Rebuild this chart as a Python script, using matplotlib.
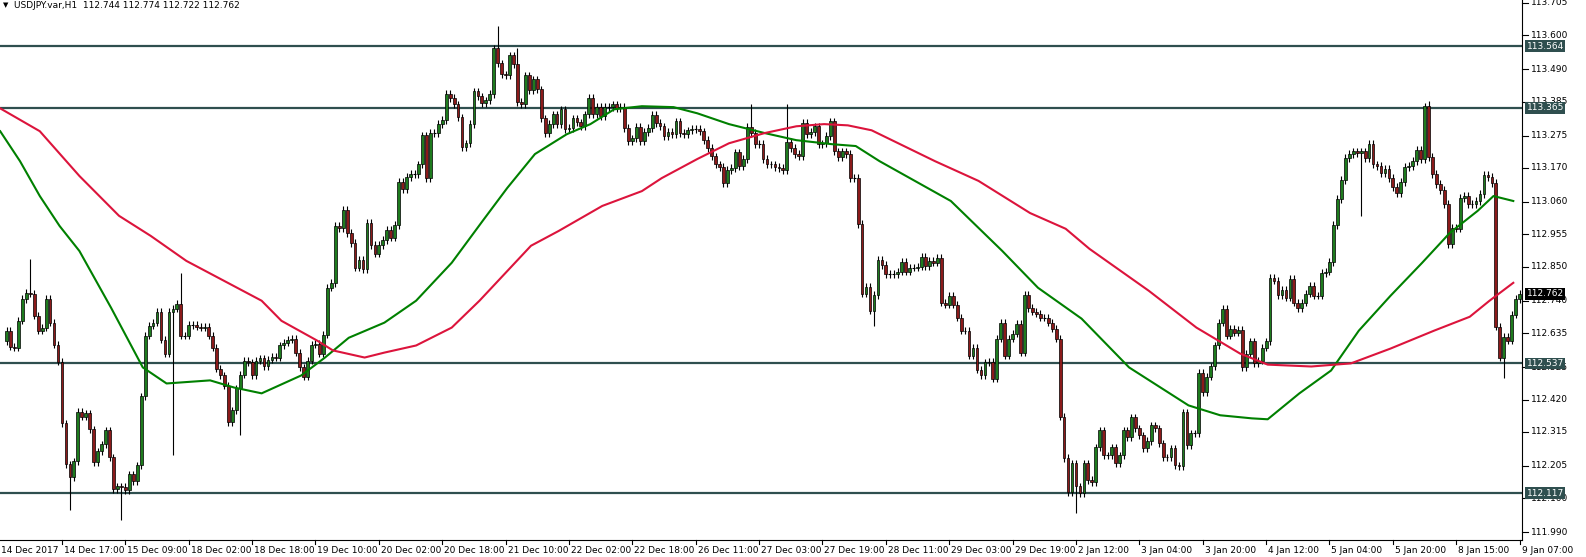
import matplotlib
matplotlib.use("Agg")
import matplotlib.pyplot as plt
from matplotlib.patches import Rectangle
import numpy as np

closes = [
112.643,112.591,112.588,112.675,112.746,112.766,112.763,112.692,112.643,112.653,112.746,112.669,112.598,112.543,112.343,112.210,112.168,112.220,112.381,112.365,112.375,112.323,112.217,112.252,112.275,112.320,112.233,
112.130,112.139,112.136,112.126,112.178,112.155,112.207,112.430,112.627,112.659,112.669,112.705,112.614,112.569,112.705,112.714,112.730,112.627,112.627,112.662,112.662,112.656,112.653,112.656,112.627,
112.588,112.520,112.498,112.465,112.346,112.385,112.456,112.501,112.546,112.540,
112.498,112.546,112.553,112.527,112.549,112.559,112.556,112.595,112.604,112.614,112.617,112.572,112.524,112.494,112.546,112.598,112.601,112.569,112.630,112.782,112.798,112.982,112.976,113.034,112.960,112.927,112.847,112.872,112.843,112.992,112.921,112.892,112.921,112.937,112.969,112.944,112.985,113.124,113.102,113.141,113.150,113.150,113.182,113.276,113.137,113.283,113.283,113.312,113.325,113.409,
113.396,113.376,113.334,113.237,113.250,113.312,113.418,113.402,113.380,113.389,113.409,113.557,113.509,113.473,113.470,113.535,113.506,113.383,113.376,113.470,113.422,113.457,113.425,113.331,113.283,113.312,113.344,113.312,113.360,113.296,113.299,113.331,113.318,113.305,113.344,113.396,113.344,113.367,113.338,113.367,113.367,113.376,113.363,113.367,113.299,113.257,113.266,
113.302,113.257,113.286,113.299,113.341,113.315,113.305,113.273,113.286,113.279,113.321,113.283,113.279,113.292,113.296,113.296,113.289,113.260,113.234,113.208,113.182,113.173,113.121,113.163,113.170,113.221,113.176,113.199,113.302,113.283,113.247,113.247,113.199,113.182,113.182,113.173,113.170,113.163,113.254,113.234,113.215,113.208,113.315,113.279,113.286,113.305,113.247,113.250,113.273,113.321,113.224,113.205,113.224,113.215,113.137,113.137,112.989,112.763,
112.785,112.708,112.759,112.872,112.856,112.827,112.827,112.827,112.834,112.866,112.834,112.847,112.847,112.850,112.882,112.853,112.869,112.863,112.879,112.734,112.727,112.756,112.727,112.685,112.643,112.643,112.562,112.588,112.517,112.498,112.540,112.543,112.488,112.617,112.669,112.562,112.617,112.633,112.666,112.572,112.759,112.717,112.705,112.698,112.685,112.685,112.669,112.650,112.617,112.365,112.230,112.120,112.213,112.139,112.117,
112.213,112.159,112.152,112.265,112.320,112.239,112.239,112.265,112.213,112.239,
112.320,112.298,112.362,112.327,112.304,112.262,112.285,112.336,112.327,112.278,
112.233,112.233,112.262,112.207,112.204,112.378,112.272,112.310,112.310,112.507,
112.443,112.494,112.527,112.595,112.669,112.714,112.627,112.650,112.637,112.646,
112.524,112.569,112.608,112.537,112.546,112.588,112.608,112.814,112.805,112.759,
112.776,112.750,112.811,112.734,112.717,112.734,112.763,112.788,112.756,112.756,
112.830,112.834,112.866,112.985,113.069,113.131,113.202,113.215,113.224,113.218,
113.224,113.202,113.247,113.182,113.176,
113.153,113.166,113.137,113.108,113.089,113.124,113.173,113.176,113.192,113.228,113.199,113.370,113.205,113.150,113.118,113.099,113.053,112.924,112.976,112.973,113.073,113.079,113.053,113.053,113.063,113.086,113.147,113.141,113.121,112.656,112.556,112.624,112.611,112.695,112.746,112.762]

open0 = 112.610
wick = 0.012
high_idx = [6, 44, 124, 129, 188, 197, 359]
high_val = [112.876, 112.830, 113.631, 113.560, 113.376, 113.376, 113.386]
low_idx = [16, 29, 42, 59, 219, 270, 342, 378]
low_val = [112.062, 112.029, 112.239, 112.304, 112.659, 112.052, 113.015, 112.491]

green_x = [0,5,10,15,20,28,36,42,53,59,66,76,82,88,97,105,114,122,128,135,143,149,155,162,170,176,184,193,201,210,216,222,240,253,262,273,285,300,308,316,320,328,336,343,351,359,366,373,377,382]
green_y = [113.289,113.192,113.079,112.982,112.901,112.717,112.524,112.472,112.482,112.459,112.440,112.498,112.556,112.620,112.669,112.740,112.863,113.002,113.105,113.215,113.279,113.312,113.360,113.370,113.367,113.347,113.312,113.283,113.260,113.247,113.241,113.192,113.063,112.901,112.782,112.682,112.524,112.401,112.369,112.359,112.356,112.440,112.514,112.643,112.756,112.863,112.960,113.031,113.079,113.063]
red_x = [0,10,20,30,38,47,66,71,80,84,92,97,105,114,121,134,141,152,162,167,176,184,193,201,208,214,220,236,247,260,269,275,290,302,313,320,331,341,351,362,371,376,382]
red_y = [113.363,113.289,113.144,113.015,112.950,112.869,112.740,112.675,112.611,112.579,112.556,112.572,112.595,112.653,112.740,112.918,112.966,113.047,113.095,113.137,113.199,113.250,113.283,113.305,113.312,113.308,113.292,113.192,113.128,113.024,112.973,112.908,112.772,112.653,112.569,112.533,112.527,112.537,112.585,112.643,112.688,112.740,112.798]

levels = [113.564, 113.365, 112.537, 112.117]
yticks = [113.705,113.600,113.490,113.385,113.275,113.170,113.060,112.955,112.850,112.740,112.635,112.525,112.420,112.315,112.205,112.100,111.990]
xlabels = ["14 Dec 2017","14 Dec 17:00","15 Dec 09:00","18 Dec 02:00","18 Dec 18:00","19 Dec 10:00","20 Dec 02:00","20 Dec 18:00","21 Dec 10:00","22 Dec 02:00","22 Dec 18:00","26 Dec 11:00","27 Dec 03:00","27 Dec 19:00","28 Dec 11:00","29 Dec 03:00","29 Dec 19:00","2 Jan 12:00","3 Jan 04:00","3 Jan 20:00","4 Jan 12:00","5 Jan 04:00","5 Jan 20:00","8 Jan 15:00","9 Jan 07:00"]
last_price = 112.762
title = "USDJPY.var,H1  112.744 112.774 112.722 112.762"

W, H = 1586, 557
fig = plt.figure(figsize=(W/100, H/100), dpi=100)
ax = fig.add_axes([0, 17/H, 1522/W, 1 - 17/H])
N = len(closes)
c = np.array(closes)
o = np.concatenate([[open0], c[:-1]])
hi = np.maximum(o, c) + wick
lo = np.minimum(o, c) - wick
for i, v in zip(high_idx, high_val):
    hi[i] = max(hi[i], v)
for i, v in zip(low_idx, low_val):
    lo[i] = min(lo[i], v)

ax.set_xlim(-1.65, 382.6)
ax.set_ylim(111.965, 113.714)

for lv in levels:
    ax.axhline(lv, color="#2f4f4f", lw=1.6, zorder=1)

ax.vlines(np.arange(N), lo, hi, color="black", lw=0.8, zorder=2)
bw = 0.7
for i in range(N):
    b = min(o[i], c[i]); h = abs(c[i] - o[i])
    if h < 0.002:
        ax.hlines(c[i], i - bw/2, i + bw/2, color="black", lw=0.8, zorder=3)
        continue
    col = "#1e7b1e" if c[i] >= o[i] else "#8b1a1a"
    ax.add_patch(Rectangle((i - bw/2, b), bw, h, facecolor=col, edgecolor="black", lw=0.5, zorder=3))

shift = -1.6
ax.plot(np.array(green_x) + shift, green_y, color="#008000", lw=1.5, zorder=4)
ax.plot(np.array(red_x) + shift, red_y, color="#dc143c", lw=1.5, zorder=4)

ax.set_xticks([]); ax.set_yticks([])
for s in ["top", "left"]:
    ax.spines[s].set_visible(False)
ax.spines["right"].set_color("black")
ax.spines["bottom"].set_color("black")

trans = ax.get_yaxis_transform()
for t in yticks:
    ax.plot([1.0, 1.004], [t, t], transform=trans, color="black", lw=0.8, clip_on=False)
    ax.text(1.006, t, f"{t:.3f}", transform=trans, fontsize=6.5, va="center", ha="left")
for lv in levels:
    ax.text(1.003, lv, f"{lv:.3f}", transform=trans, fontsize=6.5, va="center", ha="left", color="white",
            bbox=dict(boxstyle="square,pad=0.15", fc="#2f4f4f", ec="none"), zorder=10, clip_on=False)
ax.text(1.003, last_price, f"{last_price:.3f}", transform=trans, fontsize=6.5, va="center", ha="left", color="white",
        bbox=dict(boxstyle="square,pad=0.15", fc="black", ec="none"), zorder=10, clip_on=False)

xt = ax.get_xaxis_transform()
for k, lab in enumerate(xlabels):
    pos = (N - 1) - 16 * (len(xlabels) - 1 - k)
    ax.plot([pos, pos], [0, -0.008], transform=xt, color="black", lw=0.8, clip_on=False)
    ax.text(pos + 0.5, -0.012, lab, transform=xt, fontsize=6.5, va="top", ha="left", clip_on=False)

fig.text(3/W, 1 - 5/H, "\u25bc", fontsize=5, va="center", ha="left")
fig.text(14/W, 1 - 5/H, title, fontsize=6.5, va="center", ha="left")

fig.savefig("out.png", dpi=100)
